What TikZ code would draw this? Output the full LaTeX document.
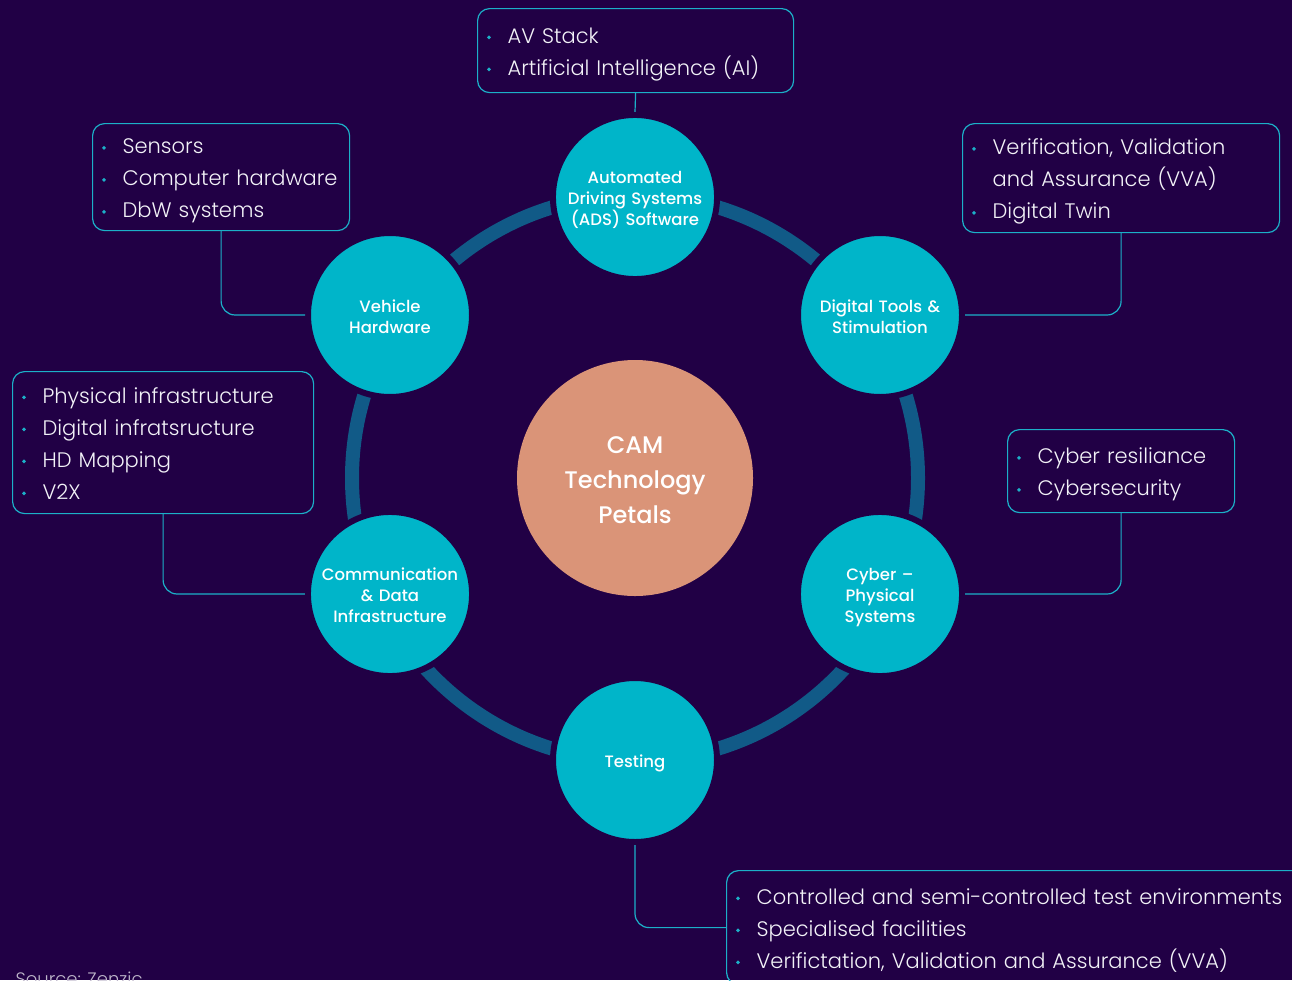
\documentclass[tikz,border=0pt]{standalone}
\usepackage{fontspec}
\setmainfont{Poppins}
\newfontfamily\boxfont{Poppins Light}
\newfontfamily\petalfont{Poppins Medium}
\usepackage{xcolor}
\usepackage{tikz}

\definecolor{bg}{HTML}{210045}
\definecolor{petal}{HTML}{00B5C9}
\definecolor{ring}{HTML}{115A87}
\definecolor{core}{HTML}{DA9478}
\definecolor{edge}{HTML}{1CB0C8}
\definecolor{ink}{HTML}{F2F2F7}

% small teal bullet and the matching indent
\newcommand\bul{\makebox[21pt][l]{\hspace{0.5pt}\tikz[baseline=-0.5ex]\fill[edge] (0,0) circle (1.9pt);}}
\newcommand\ind{\hspace*{21pt}}

\begin{document}
\begin{tikzpicture}[x=1pt,y=-1pt,
  petal/.style={circle,fill=petal,draw=bg,line width=6pt,minimum size=164pt,inner sep=0pt,
    text width=150pt,align=center,text=white,font=\petalfont\fontsize{16.5}{21}\selectfont,
    execute at begin node={\rule{0pt}{20pt}},execute at end node={\rule[-5pt]{0pt}{0pt}}},
  box/.style={draw=edge,line width=1.2pt,rounded corners=12pt,anchor=north west,
    inner xsep=9pt,inner ysep=0pt,align=left,text=ink,font=\boxfont\fontsize{21}{32}\selectfont,
    execute at begin node={\rule{0pt}{24pt}},execute at end node={\rule[-7pt]{0pt}{0pt}}},
  conn/.style={draw=edge,line width=1.2pt,rounded corners=14pt}]
\clip (0,0) rectangle (1292,980);
\fill[bg] (0,0) rectangle (1292,980);
\coordinate (mid) at (635,478);

% ring behind the petals
\draw[ring,line width=14pt] (mid) circle (283);

\node[circle,fill=core,minimum size=236pt,inner sep=0pt,text width=200pt,text=white,align=center,
  font=\petalfont\fontsize{24}{35}\selectfont,
  execute at begin node={\rule{0pt}{28pt}},execute at end node={\rule[-7pt]{0pt}{0pt}}]
  (cam) at (mid) {CAM\\Technology\\Petals};

% petals
\node[petal] (ads) at (635,197) {Automated\\Driving Systems\\(ADS) Software};
\node[petal] (vh) at (390,315) {Vehicle\\Hardware};
\node[petal] (dt) at (880,315) {Digital Tools \&\\Stimulation};
\node[petal] (cd) at (390,594) {Communication\\\& Data\\Infrastructure};
\node[petal] (cps) at (880,594) {Cyber \textendash\\Physical\\Systems};
\node[petal] (test) at (635,760) {Testing};

% lists
\node[box,text width=298pt,minimum height=84pt] (adsb) at (477,8)
  {\bul AV Stack\\\bul Artificial Intelligence (AI)};
\node[box,text width=239pt,minimum height=107pt] (vhb) at (92,123)
  {\bul Sensors\\\bul Computer hardware\\\bul DbW systems};
\node[box,text width=299pt,minimum height=109pt] (dtb) at (962,123)
  {\bul Verification, Validation\\\ind and Assurance (VVA)\\\bul Digital Twin};
\node[box,text width=283pt,minimum height=142pt] (cdb) at (12,371)
  {\bul Physical infrastructure\\\bul Digital infratsructure\\\bul HD Mapping\\\bul V2X};
\node[box,text width=209pt,minimum height=83pt] (cpsb) at (1007,429)
  {\bul Cyber resiliance\\\bul Cybersecurity};
\node[box,text width=582pt,minimum height=114pt] (testb) at (726,870)
  {\bul Controlled and semi-controlled test environments\\\bul Specialised facilities\\\bul Verifictation, Validation and Assurance (VVA)};

\draw[conn] (adsb.south) -- (ads.north);
\draw[conn] (vhb.south) |- (vh.west);
\draw[conn] (dtb.south) |- (dt.east);
\draw[conn] (cdb.south) |- (cd.west);
\draw[conn] (cpsb.south) |- (cps.east);
\draw[conn] (test.south) |- (testb.west);

\node[anchor=base west,text=ink!75!bg,font=\boxfont\fontsize{18}{22}\selectfont] (src) at (12,985) {Source: Zenzic};
\end{tikzpicture}
\end{document}
